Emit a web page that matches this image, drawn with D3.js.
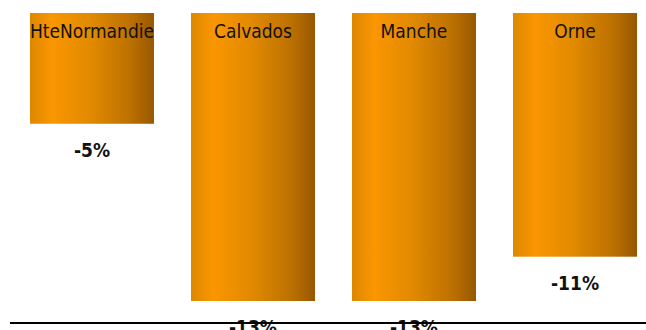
<!DOCTYPE html>
<html>
<head>
<meta charset="utf-8">
<script src="https://cdn.jsdelivr.net/npm/d3@7"></script>
<style>
  html, body { margin: 0; padding: 0; background: #fff; }
  svg { display: block; }
</style>
</head>
<body>
<div id="chart"></div>
<script>
// data
const regions = ['HteNormandie', 'Calvados', 'Manche', 'Orne'];
const changes = [-5, -13, -13, -11];
const value_labels = ['-5%', '-13%', '-13%', '-11%'];

const width = 646, height = 330;
const margin = {top: 13, left: 30, right: 9};
const font = '"DejaVu Sans Condensed", "DejaVu Sans", sans-serif';

const svg = d3.select('#chart').append('svg')
  .attr('width', width)
  .attr('height', height);

// orange cylinder-ish shading
const grad = svg.append('defs').append('linearGradient')
  .attr('id', 'bar_fill')
  .attr('x1', '0%').attr('x2', '100%')
  .attr('y1', '0%').attr('y2', '0%');
[
  [0, '#dd8800'],
  [0.18, '#fa9600'],
  [0.5, '#e08900'],
  [0.8, '#bd7100'],
  [1, '#985800']
].forEach(([o, c]) => grad.append('stop').attr('offset', o).attr('stop-color', c));

const x = d3.scaleBand()
  .domain(regions)
  .range([margin.left, width - margin.right])
  .paddingInner(0.23)
  .paddingOuter(0);

const y = d3.scaleLinear()
  .domain([0, -13])
  .range([margin.top, 301]);

const bars = svg.append('g').selectAll('g.bar')
  .data(regions.map((r, i) => ({region: r, value: changes[i], label: value_labels[i]})))
  .join('g')
  .attr('class', 'bar');

bars.append('rect')
  .attr('x', d => x(d.region))
  .attr('y', y(0))
  .attr('width', x.bandwidth())
  .attr('height', d => y(d.value) - y(0))
  .attr('fill', 'url(#bar_fill)');

// region names inside the top of each bar
bars.append('text')
  .attr('x', d => x(d.region) + x.bandwidth() / 2)
  .attr('y', 38)
  .attr('text-anchor', 'middle')
  .style('font-family', font)
  .style('font-size', '19px')
  .attr('fill', '#111')
  .text(d => d.region);

// value labels under the bars (the -13% ones run off the bottom, as in the original)
bars.append('text')
  .attr('x', d => x(d.region) + x.bandwidth() / 2)
  .attr('y', d => y(d.value) + 33)
  .attr('text-anchor', 'middle')
  .style('font-family', font)
  .style('font-size', '19px')
  .style('font-weight', 'bold')
  .attr('fill', '#111')
  .text(d => d.label);

// baseline rule
svg.append('line')
  .attr('x1', 10).attr('x2', width)
  .attr('y1', 323).attr('y2', 323)
  .attr('stroke', '#000')
  .attr('stroke-width', 2);
</script>
</body>
</html>
